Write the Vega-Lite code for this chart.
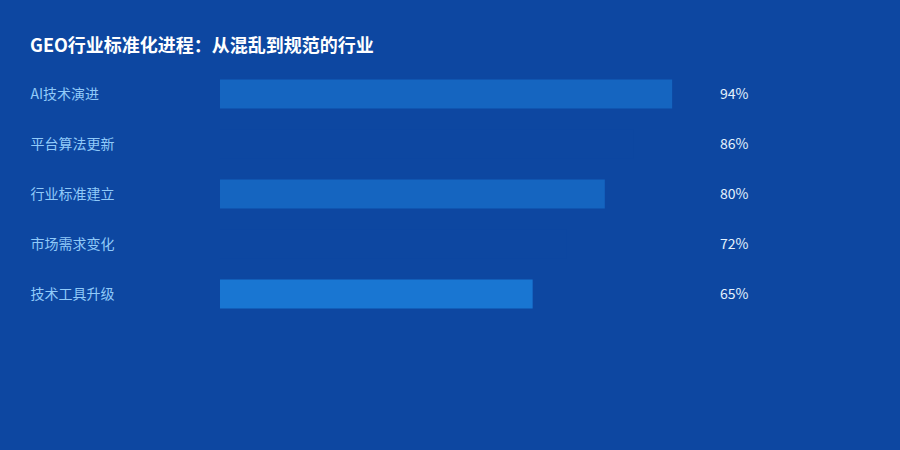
{
  "$schema": "https://vega.github.io/schema/vega-lite/v6.json",
  "autosize": "none",
  "width": 481,
  "height": 250,
  "padding": {"left": 220, "top": 69, "right": 199, "bottom": 131},
  "background": "#0D47A1",
  "config": {
    "view": {"stroke": null},
    "font": "Noto Sans CJK SC"
  },
  "title": {
    "text": "GEO行业标准化进程：从混乱到规范的行业",
    "anchor": "start",
    "frame": "bounds",
    "offset": 13,
    "fontSize": 18,
    "fontWeight": "bold",
    "color": "#FFFFFF",
    "font": "Noto Sans CJK SC"
  },
  "data": {
    "values": [
      {"item": "AI技术演进", "value": 0.94},
      {"item": "平台算法更新", "value": 0.86},
      {"item": "行业标准建立", "value": 0.80},
      {"item": "市场需求变化", "value": 0.72},
      {"item": "技术工具升级", "value": 0.65}
    ]
  },
  "encoding": {
    "y": {
      "field": "item",
      "type": "nominal",
      "sort": null,
      "title": null,
      "scale": {"paddingInner": 0.42, "paddingOuter": 0.21},
      "axis": {
        "domain": false,
        "ticks": false,
        "labelAlign": "left",
        "labelPadding": 190,
        "labelOffset": 1,
        "labelColor": "#90CAF9",
        "labelFontSize": 14,
        "labelFont": "Noto Sans CJK SC"
      }
    }
  },
  "layer": [
    {
      "mark": {"type": "bar"},
      "encoding": {
        "x": {
          "field": "value",
          "type": "quantitative",
          "scale": {"domain": [0, 1]},
          "axis": null
        },
        "color": {
          "field": "item",
          "type": "nominal",
          "scale": {
            "domain": ["AI技术演进", "平台算法更新", "行业标准建立", "市场需求变化", "技术工具升级"],
            "range": ["#1565C0", "#0D47A1", "#1565C0", "#0D47A1", "#1976D2"]
          },
          "legend": null
        }
      }
    },
    {
      "mark": {
        "type": "text",
        "align": "left",
        "baseline": "middle",
        "dx": 19,
        "dy": 1,
        "fontSize": 14,
        "color": "#E3F2FD",
        "font": "Noto Sans CJK SC"
      },
      "encoding": {
        "x": {"datum": 1, "type": "quantitative"},
        "text": {"field": "value", "type": "quantitative", "format": ".0%"}
      }
    }
  ]
}
